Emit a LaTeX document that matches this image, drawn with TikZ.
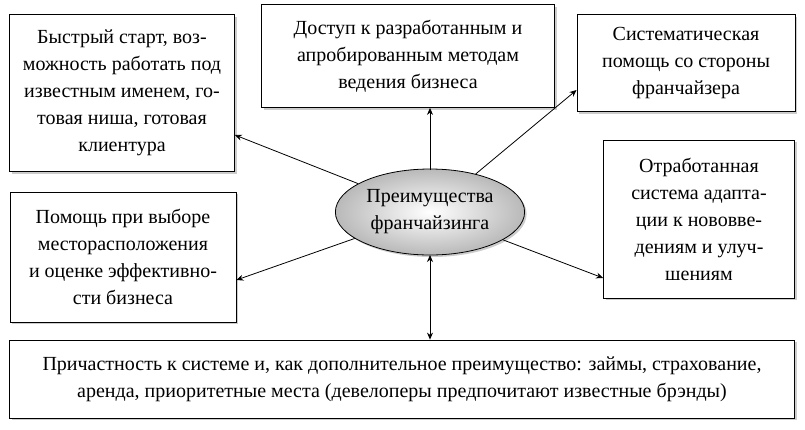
\documentclass[tikz,border=0pt]{standalone}
\usepackage{fontspec}
\setmainfont{Liberation Serif}
\usetikzlibrary{shapes.geometric,shadows,arrows.meta}
\tikzset{
  benefit/.style={draw,thick,fill=white,drop shadow={shadow xshift=2pt,shadow yshift=-2pt,opacity=.4},
    align=center,font=\fontsize{20}{27}\selectfont,inner sep=4pt},
  link/.style={-{Stealth[length=7pt,width=6pt]},thick}
}
\begin{document}
\begin{tikzpicture}[x=1pt,y=-1pt]
\useasboundingbox (0,0) rectangle (805,429);
% boxes
\node[benefit,minimum width=225,minimum height=157] (start) at (122,93)
  {Быстрый старт, воз-\\можность работать под\\известным именем, го-\\товая ниша, готовая\\клиентура};
\node[benefit,minimum width=293,minimum height=103] (methods) at (408,56)
  {Доступ к разработанным и\\апробированным методам\\ведения бизнеса};
\node[benefit,minimum width=218,minimum height=97] (help) at (686,63)
  {Систематическая\\помощь со стороны\\франчайзера};
\node[benefit,minimum width=226,minimum height=130] (place) at (123,257)
  {Помощь при выборе\\месторасположения\\и оценке эффективно-\\сти бизнеса};
\node[benefit,minimum width=191,minimum height=158] (adapt) at (699,219)
  {Отработанная\\система адапта-\\ции к нововве-\\дениям и улуч-\\шениям};
\node[benefit,minimum width=785,minimum height=78] (system) at (402,379)
  {Причастность к системе и, как дополнительное преимущество: займы, страхование,\\аренда, приоритетные места (девелоперы предпочитают известные брэнды)};
% centre
\node[ellipse,draw,thick,minimum width=180,minimum height=86,inner color=white,outer color=gray!55,
  drop shadow={shadow xshift=2pt,shadow yshift=-2pt,opacity=.4},align=center,
  font=\fontsize{20}{27}\selectfont] (core) at (430,212) {Преимущества\\франчайзинга};
\coordinate (upC) at (430,170);
\coordinate (downC) at (430,255);
% arrows
\draw[link] (core) -- (start.south east |- 0,135);
\draw[link] (upC) -- (upC |- methods.south);
\draw[link] (core) -- (help.south west |- 0,90);
\draw[link] (core) -- (place.east |- 0,280);
\draw[link] (core) -- (adapt.west |- 0,278);
\draw[link,{Stealth[length=7pt,width=6pt]}-{Stealth[length=7pt,width=6pt]}] (downC) -- (downC |- system.north);
\end{tikzpicture}
\end{document}
